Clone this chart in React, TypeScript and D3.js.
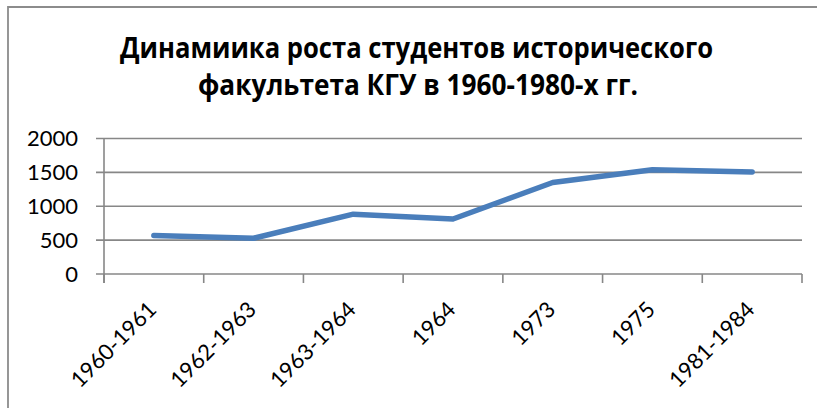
import React from "react";
import * as d3 from "d3";

const categories: string[] = ["1960-1961", "1962-1963", "1963-1964", "1964", "1973", "1975", "1981-1984"];
const students: number[] = [568, 528, 883, 812, 1350, 1538, 1505];
const yTicks: number[] = [0, 500, 1000, 1500, 2000];
const titleLines: string[] = ["Динамиика роста студентов исторического", "факультета КГУ в 1960-1980-х гг."];

const W = 817;
const H = 408;
const plotLeft = 104;
const plotRight = 802;
const yTop = 138.5;
const yBottom = 274;

export default function App() {
  const x = d3.scaleBand<string>().domain(categories).range([plotLeft, plotRight]).paddingInner(0).paddingOuter(0);
  const y = d3.scaleLinear().domain([0, 2000]).range([yBottom, yTop]);
  const line = d3
    .line<number>()
    .x((_, i) => (x(categories[i]) as number) + x.bandwidth() / 2)
    .y((d) => y(d));
  const tickXs = categories.map((c) => x(c) as number).concat([plotRight]);
  const grid = "#878787";
  return (
    <svg width={W} height={H} style={{ position: "absolute", left: 0, top: 0, background: "#fff" }}>
      <rect x={0} y={0} width={W} height={H} fill="#fff" />
      {/* outer chart frame */}
      <path d={`M8,${H + 5} L8,7 L${W + 5},7`} fill="none" stroke="#8c8c8c" strokeWidth={1.8} />
      {/* title */}
      <g fontFamily="'Open Sans', 'Noto Sans', sans-serif" fontWeight="bold" fill="#000" textAnchor="middle">
        <text x={416.5} y={58} fontSize={28.5} textLength={593} lengthAdjust="spacingAndGlyphs">
          {titleLines[0]}
        </text>
        <text x={418} y={95} fontSize={28.5} textLength={440} lengthAdjust="spacingAndGlyphs">
          {titleLines[1]}
        </text>
      </g>
      {/* gridlines + y ticks */}
      {yTicks.map((t) => (
        <g key={t}>
          <line x1={96} x2={plotRight} y1={y(t)} y2={y(t)} stroke={grid} strokeWidth={1.6} />
          <text
            x={78}
            y={y(t) + 7.5}
            textAnchor="end"
            fontFamily="'Lato', 'Open Sans', sans-serif"
            fontSize={22}
            fill="#000"
          >
            {t}
          </text>
        </g>
      ))}
      {/* y axis */}
      <line x1={plotLeft} x2={plotLeft} y1={yTop} y2={yBottom + 9} stroke={grid} strokeWidth={1.6} />
      {/* x ticks */}
      {tickXs.map((tx, i) => (
        <line key={i} x1={tx} x2={tx} y1={yBottom} y2={yBottom + 9} stroke={grid} strokeWidth={1.6} />
      ))}
      {/* x labels */}
      {categories.map((c) => {
        const cx = (x(c) as number) + x.bandwidth() / 2 + 4;
        const cy = 311;
        return (
          <text
            key={c}
            x={cx}
            y={cy}
            textAnchor="end"
            transform={`rotate(-45 ${cx} ${cy})`}
            fontFamily="'Lato', 'Open Sans', sans-serif"
            fontSize={22}
            fill="#000"
          >
            {c}
          </text>
        );
      })}
      {/* data line */}
      <path
        d={line(students) as string}
        fill="none"
        stroke="#4a7ebb"
        strokeWidth={5.5}
        strokeLinecap="round"
        strokeLinejoin="round"
      />
    </svg>
  );
}
